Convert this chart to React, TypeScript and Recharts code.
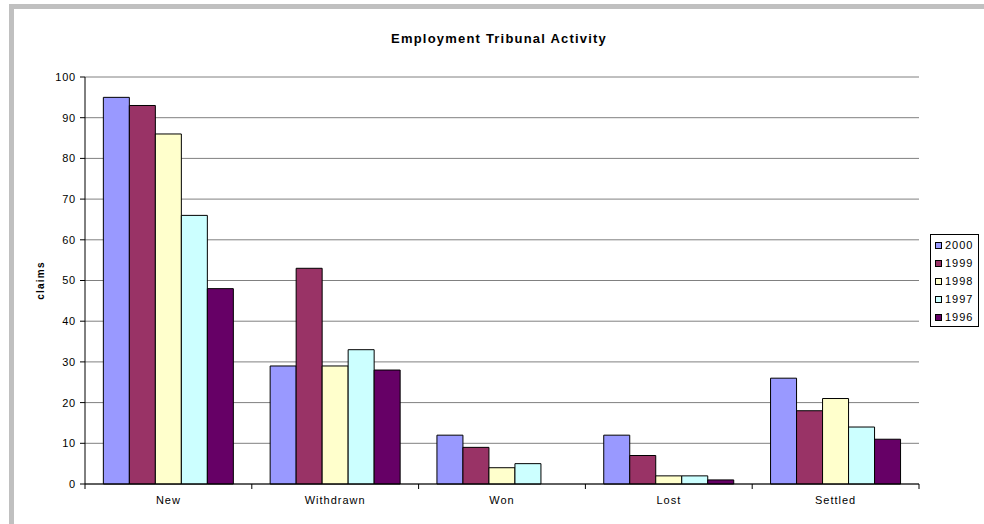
import React from 'react';
import { BarChart, Bar, XAxis, YAxis, CartesianGrid, Label } from 'recharts';

const categories = ['New', 'Withdrawn', 'Won', 'Lost', 'Settled'];
const years = ['2000', '1999', '1998', '1997', '1996'];
const v2000 = [95, 29, 12, 12, 26];
const v1999 = [93, 53, 9, 7, 18];
const v1998 = [86, 29, 4, 2, 21];
const v1997 = [66, 33, 5, 2, 14];
const v1996 = [48, 28, 0, 1, 11];
const yTicks = [0, 10, 20, 30, 40, 50, 60, 70, 80, 90, 100];

const seriesValues = [v2000, v1999, v1998, v1997, v1996];
const colors = ['#9999FF', '#993366', '#FFFFCC', '#CCFFFF', '#660066'];

const data = categories.map((c, i) => {
  const row: Record<string, string | number> = { name: c };
  years.forEach((y, k) => {
    row[y] = seriesValues[k][i];
  });
  return row;
});

const FONT = '"Liberation Sans", Arial, Helvetica, sans-serif';
const X_TICK_SIZE = 6;
const X_TICK_MARGIN = 6;

const ClaimsLabel = (props: any) => {
  const vb = props.viewBox || {};
  const cx = (vb.x ?? 40) + 0.5;
  const cy = (vb.y ?? 77) + (vb.height ?? 407) / 2;
  return (
    <text
      x={cx}
      y={cy}
      transform={`rotate(-90, ${cx}, ${cy})`}
      textAnchor="middle"
      dominantBaseline="central"
      fontFamily={FONT}
      fontSize={10}
      fontWeight="bold"
      letterSpacing={1.2}
      fill="#000"
    >
      claims
    </text>
  );
};

const CategoryTick = (props: any) => {
  const { x, y, payload, index, visibleTicksCount } = props;
  const half = payload && payload.offset ? payload.offset : 0;
  const axisY = y - X_TICK_SIZE - X_TICK_MARGIN;
  const isLast = visibleTicksCount != null ? index === visibleTicksCount - 1 : index === categories.length - 1;
  return (
    <g>
      <line x1={x - half} x2={x - half} y1={axisY} y2={axisY + 5} stroke="#000" />
      {isLast && <line x1={x + half} x2={x + half} y1={axisY} y2={axisY + 5} stroke="#000" />}
      <text
        x={x}
        y={y}
        dy="0.71em"
        textAnchor="middle"
        fontFamily={FONT}
        fontSize={11}
        letterSpacing={1}
        fill="#000"
      >
        {payload.value}
      </text>
    </g>
  );
};

export default function App() {
  return (
    <div
      style={{
        position: 'absolute',
        left: 0,
        top: 0,
        width: 984,
        height: 524,
        background: '#fff',
        overflow: 'hidden',
        fontFamily: FONT,
      }}
    >
      <div
        style={{
          position: 'absolute',
          left: 9,
          top: 4,
          width: 980,
          height: 530,
          borderTop: '5px solid #c0c0c0',
          borderLeft: '5px solid #c0c0c0',
          boxSizing: 'border-box',
        }}
      />
      <div
        style={{
          position: 'absolute',
          left: 0,
          top: 32,
          width: 998,
          textAlign: 'center',
          fontSize: 13,
          lineHeight: '13px',
          fontWeight: 'bold',
          letterSpacing: 1.2,
          whiteSpace: 'nowrap',
          color: '#000',
        }}
      >
        Employment Tribunal Activity
      </div>
      <div style={{ position: 'absolute', left: 0, top: 0 }}>
        <BarChart
          width={984}
          height={524}
          data={data}
          margin={{ top: 77, right: 65, bottom: 10, left: 40 }}
          barGap={0}
          barCategoryGap="11%"
        >
          <CartesianGrid vertical={false} stroke="#808080" strokeWidth={1} />
          <XAxis
            dataKey="name"
            height={30}
            axisLine={{ stroke: '#000' }}
            tickLine={false}
            tickSize={X_TICK_SIZE}
            tickMargin={X_TICK_MARGIN}
            tick={<CategoryTick />}
            interval={0}
          />
          <XAxis
            xAxisId="top"
            orientation="top"
            dataKey="name"
            height={0}
            axisLine={{ stroke: '#000' }}
            tickLine={false}
            tick={false}
          />
          <YAxis
            domain={[0, 100]}
            ticks={yTicks}
            width={45}
            axisLine={{ stroke: '#000' }}
            tickLine={{ stroke: '#000' }}
            tickSize={5}
            tickMargin={4}
            interval={0}
            tick={{ fontSize: 11, fill: '#000', fontFamily: FONT, letterSpacing: 0.8 }}
          >
            <Label content={<ClaimsLabel />} />
          </YAxis>
          <YAxis
            yAxisId="right"
            orientation="right"
            width={0}
            domain={[0, 100]}
            axisLine={{ stroke: '#000' }}
            tickLine={false}
            tick={false}
          />
          {years.map((y, k) => (
            <Bar
              key={y}
              dataKey={y}
              fill={colors[k]}
              stroke="#000"
              strokeWidth={1}
              isAnimationActive={false}
            />
          ))}
        </BarChart>
      </div>
      <div
        style={{
          position: 'absolute',
          left: 930,
          top: 234,
          width: 49,
          border: '1px solid #000',
          paddingTop: 1,
          boxSizing: 'border-box',
          background: '#fff',
        }}
      >
        {years.map((y, k) => (
          <div
            key={y}
            style={{
              display: 'flex',
              alignItems: 'center',
              height: 18,
              paddingLeft: 4,
              fontSize: 11,
              letterSpacing: 1,
              color: '#000',
            }}
          >
            <span
              style={{
                display: 'inline-block',
                width: 7,
                height: 7,
                background: colors[k],
                border: '1px solid #000',
                boxSizing: 'border-box',
                marginRight: 3,
              }}
            />
            <span>{y}</span>
          </div>
        ))}
      </div>
    </div>
  );
}
